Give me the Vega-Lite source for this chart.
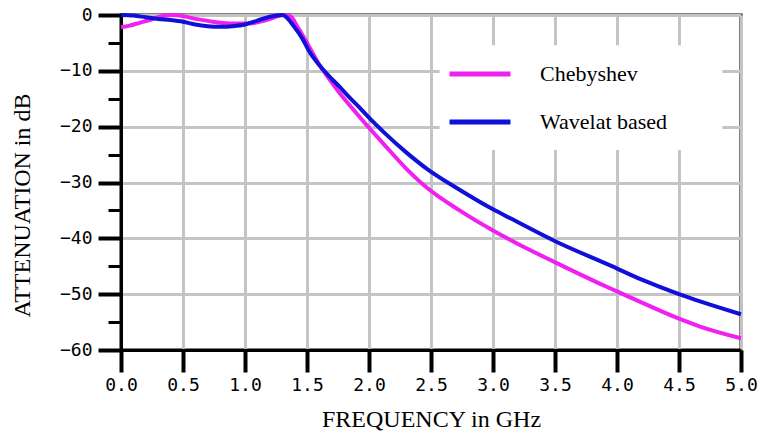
{
  "$schema": "https://vega.github.io/schema/vega-lite/v6.json",
  "width": 620,
  "height": 335,
  "autosize": "none",
  "padding": {"left": 121, "top": 15, "right": 21, "bottom": 88},
  "background": "white",
  "config": {
    "view": {"stroke": "black", "strokeWidth": 3},
    "axis": {
      "grid": true,
      "domainColor": "black",
      "domainWidth": 3,
      "tickColor": "black",
      "gridColor": "#c4c4c4",
      "gridWidth": 3,
      "labelColor": "black",
      "labelFont": "DejaVu Sans Mono",
      "labelFontSize": 18,
      "titleFont": "Liberation Serif",
      "titleFontSize": 24,
      "titleFontWeight": "normal",
      "titleColor": "black"
    }
  },
  "datasets": {
    "curves": [
      {"f": 0.0, "dB": -2.2, "series": "Chebyshev"},
      {"f": 0.07, "dB": -1.9, "series": "Chebyshev"},
      {"f": 0.15, "dB": -1.4, "series": "Chebyshev"},
      {"f": 0.23, "dB": -0.9, "series": "Chebyshev"},
      {"f": 0.31, "dB": -0.3, "series": "Chebyshev"},
      {"f": 0.41, "dB": 0.0, "series": "Chebyshev"},
      {"f": 0.5, "dB": -0.2, "series": "Chebyshev"},
      {"f": 0.6, "dB": -0.7, "series": "Chebyshev"},
      {"f": 0.71, "dB": -1.1, "series": "Chebyshev"},
      {"f": 0.88, "dB": -1.5, "series": "Chebyshev"},
      {"f": 1.04, "dB": -1.5, "series": "Chebyshev"},
      {"f": 1.16, "dB": -1.0, "series": "Chebyshev"},
      {"f": 1.24, "dB": -0.4, "series": "Chebyshev"},
      {"f": 1.31, "dB": 0.0, "series": "Chebyshev"},
      {"f": 1.37, "dB": -0.3, "series": "Chebyshev"},
      {"f": 1.42, "dB": -2.0, "series": "Chebyshev"},
      {"f": 1.5, "dB": -5.0, "series": "Chebyshev"},
      {"f": 1.6, "dB": -8.9, "series": "Chebyshev"},
      {"f": 1.68, "dB": -11.5, "series": "Chebyshev"},
      {"f": 1.76, "dB": -13.9, "series": "Chebyshev"},
      {"f": 1.88, "dB": -17.1, "series": "Chebyshev"},
      {"f": 2.0, "dB": -20.2, "series": "Chebyshev"},
      {"f": 2.11, "dB": -22.9, "series": "Chebyshev"},
      {"f": 2.3, "dB": -27.5, "series": "Chebyshev"},
      {"f": 2.47, "dB": -31.0, "series": "Chebyshev"},
      {"f": 2.73, "dB": -35.0, "series": "Chebyshev"},
      {"f": 3.0, "dB": -38.6, "series": "Chebyshev"},
      {"f": 3.14, "dB": -40.3, "series": "Chebyshev"},
      {"f": 3.51, "dB": -44.4, "series": "Chebyshev"},
      {"f": 3.86, "dB": -48.1, "series": "Chebyshev"},
      {"f": 4.0, "dB": -49.5, "series": "Chebyshev"},
      {"f": 4.21, "dB": -51.6, "series": "Chebyshev"},
      {"f": 4.5, "dB": -54.4, "series": "Chebyshev"},
      {"f": 4.67, "dB": -55.8, "series": "Chebyshev"},
      {"f": 5.0, "dB": -57.9, "series": "Chebyshev"},
      {"f": 0.0, "dB": 0.0, "series": "Wavelat based"},
      {"f": 0.1, "dB": -0.1, "series": "Wavelat based"},
      {"f": 0.2, "dB": -0.4, "series": "Wavelat based"},
      {"f": 0.3, "dB": -0.7, "series": "Wavelat based"},
      {"f": 0.4, "dB": -0.9, "series": "Wavelat based"},
      {"f": 0.5, "dB": -1.2, "series": "Wavelat based"},
      {"f": 0.6, "dB": -1.7, "series": "Wavelat based"},
      {"f": 0.7, "dB": -2.0, "series": "Wavelat based"},
      {"f": 0.8, "dB": -2.1, "series": "Wavelat based"},
      {"f": 0.9, "dB": -2.0, "series": "Wavelat based"},
      {"f": 1.0, "dB": -1.7, "series": "Wavelat based"},
      {"f": 1.1, "dB": -1.0, "series": "Wavelat based"},
      {"f": 1.2, "dB": -0.3, "series": "Wavelat based"},
      {"f": 1.3, "dB": 0.0, "series": "Wavelat based"},
      {"f": 1.4, "dB": -2.2, "series": "Wavelat based"},
      {"f": 1.47, "dB": -4.5, "series": "Wavelat based"},
      {"f": 1.52, "dB": -6.6, "series": "Wavelat based"},
      {"f": 1.6, "dB": -9.0, "series": "Wavelat based"},
      {"f": 1.68, "dB": -11.0, "series": "Wavelat based"},
      {"f": 1.76, "dB": -12.8, "series": "Wavelat based"},
      {"f": 1.84, "dB": -14.7, "series": "Wavelat based"},
      {"f": 1.92, "dB": -16.5, "series": "Wavelat based"},
      {"f": 2.0, "dB": -18.4, "series": "Wavelat based"},
      {"f": 2.11, "dB": -20.8, "series": "Wavelat based"},
      {"f": 2.3, "dB": -24.6, "series": "Wavelat based"},
      {"f": 2.47, "dB": -27.6, "series": "Wavelat based"},
      {"f": 2.73, "dB": -31.3, "series": "Wavelat based"},
      {"f": 3.0, "dB": -34.8, "series": "Wavelat based"},
      {"f": 3.14, "dB": -36.4, "series": "Wavelat based"},
      {"f": 3.51, "dB": -40.6, "series": "Wavelat based"},
      {"f": 3.94, "dB": -44.8, "series": "Wavelat based"},
      {"f": 4.21, "dB": -47.5, "series": "Wavelat based"},
      {"f": 4.5, "dB": -50.0, "series": "Wavelat based"},
      {"f": 4.67, "dB": -51.3, "series": "Wavelat based"},
      {"f": 5.0, "dB": -53.6, "series": "Wavelat based"}
    ]
  },
  "layer": [
    {
      "data": {"values": [{}]},
      "mark": {"type": "rect", "fill": "white"},
      "encoding": {
        "x": {
          "datum": 2.57,
          "type": "quantitative",
          "scale": {"domain": [0, 5], "nice": false},
          "axis": {
            "title": "FREQUENCY in GHz",
            "values": [0, 0.5, 1, 1.5, 2, 2.5, 3, 3.5, 4, 4.5, 5],
            "format": ".1f",
            "tickSize": 22,
            "tickWidth": 4,
            "labelPadding": 4,
            "titlePadding": 13,
            "labelFlush": false
          }
        },
        "x2": {"datum": 4.85},
        "y": {
          "datum": -5.4,
          "type": "quantitative",
          "scale": {"domain": [-60, 0], "nice": false},
          "axis": {
            "title": "ATTENUATION in dB",
            "values": [-60, -55, -50, -45, -40, -35, -30, -25, -20, -15, -10, -5, 0],
            "labelExpr": "datum.value % 10 === 0 ? datum.label : ''",
            "tickSize": {"condition": {"test": "datum.value % 10 !== 0", "value": 13}, "value": 23},
            "tickWidth": {"condition": {"test": "datum.value % 10 !== 0", "value": 3}, "value": 4},
            "gridOpacity": {"condition": {"test": "datum.value % 10 !== 0", "value": 0}, "value": 1},
            "labelPadding": 6,
            "labelFlush": false,
            "titleAngle": -90,
            "titleX": -99,
            "titleY": 190,
            "titleAlign": "center",
            "titleBaseline": "middle"
          }
        },
        "y2": {"datum": -24.2}
      }
    },
    {
      "data": {"name": "curves"},
      "mark": {"type": "line", "strokeWidth": 4, "interpolate": "monotone"},
      "encoding": {
        "x": {"field": "f", "type": "quantitative", "scale": {"domain": [0, 5], "nice": false},
          "axis": {
            "title": "FREQUENCY in GHz",
            "values": [0, 0.5, 1, 1.5, 2, 2.5, 3, 3.5, 4, 4.5, 5],
            "format": ".1f",
            "tickSize": 22,
            "tickWidth": 4,
            "labelPadding": 4,
            "titlePadding": 13,
            "labelFlush": false
          }},
        "y": {"field": "dB", "type": "quantitative", "scale": {"domain": [-60, 0], "nice": false},
          "axis": {
            "title": "ATTENUATION in dB",
            "values": [-60, -55, -50, -45, -40, -35, -30, -25, -20, -15, -10, -5, 0],
            "labelExpr": "datum.value % 10 === 0 ? datum.label : ''",
            "tickSize": {"condition": {"test": "datum.value % 10 !== 0", "value": 13}, "value": 23},
            "tickWidth": {"condition": {"test": "datum.value % 10 !== 0", "value": 3}, "value": 4},
            "gridOpacity": {"condition": {"test": "datum.value % 10 !== 0", "value": 0}, "value": 1},
            "labelPadding": 6,
            "labelFlush": false,
            "titleAngle": -90,
            "titleX": -99,
            "titleY": 190,
            "titleAlign": "center",
            "titleBaseline": "middle"
          }},
        "color": {
          "field": "series",
          "type": "nominal",
          "scale": {"domain": ["Chebyshev", "Wavelat based"], "range": ["#f020f0", "#1010d8"]},
          "legend": {
            "title": null,
            "orient": "none",
            "legendX": 326,
            "legendY": 26,
            "symbolType": "stroke",
            "symbolSize": 3721,
            "symbolStrokeWidth": 5,
            "labelOffset": 27,
            "labelFont": "Liberation Serif",
            "labelFontSize": 22,
            "labelColor": "black",
            "rowPadding": 4,
            "padding": 0
          }
        }
      }
    }
  ]
}
